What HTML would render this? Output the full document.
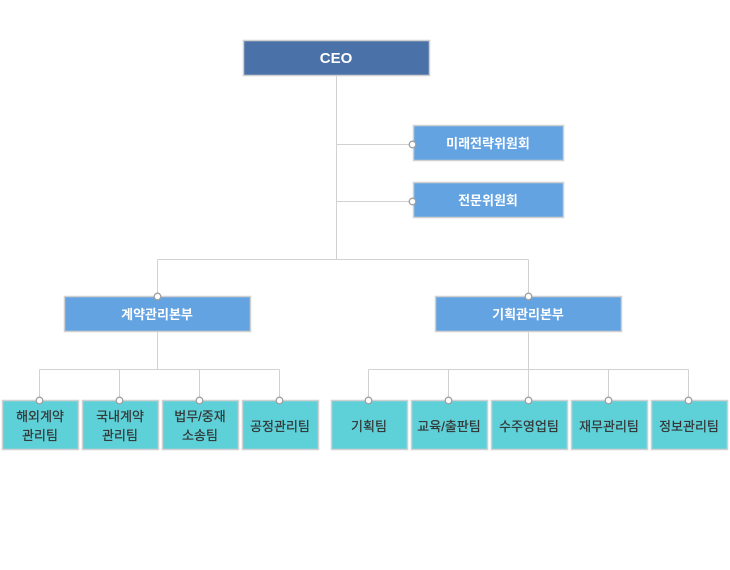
<!DOCTYPE html>
<html><head><meta charset="utf-8"><style>
html,body{margin:0;padding:0;background:#fff;width:730px;height:570px;overflow:hidden}
svg{display:block}
text{font-family:"Liberation Sans","Noto Sans CJK KR","NanumGothic",sans-serif}
</style></head><body>
<svg width="730" height="570" viewBox="0 0 730 570">
<g stroke="#d2d2d2" stroke-width="1" fill="none">
<path d="M336.5 76V259.5M336.5 144.5H413M336.5 201.5H413M157.5 259.5H528.5M157.5 259.5V296M528.5 259.5V296"/>
<path d="M157.5 332V369.5M39.5 369.5H279.5M39.5 369.5V400M119.5 369.5V400M199.5 369.5V400M279.5 369.5V400"/>
<path d="M528.5 332V369.5M368.5 369.5H688.5M368.5 369.5V400M448.5 369.5V400M528.5 369.5V400M608.5 369.5V400M688.5 369.5V400"/>
</g>
<g stroke="#d0d0d0" stroke-width="1.5">
<rect x="243.5" y="40.5" width="186" height="35" fill="#4a72a8"/>
<rect x="413.5" y="125.5" width="150" height="35" fill="#63a3e1"/>
<rect x="413.5" y="182.5" width="150" height="35" fill="#63a3e1"/>
<rect x="64.5" y="296.5" width="186" height="35" fill="#63a3e1"/>
<rect x="435.5" y="296.5" width="186" height="35" fill="#63a3e1"/>
<g fill="#5dd0d8">
<rect x="2.5" y="400.5" width="76" height="49"/>
<rect x="82.5" y="400.5" width="76" height="49"/>
<rect x="162.5" y="400.5" width="76" height="49"/>
<rect x="242.5" y="400.5" width="76" height="49"/>
<rect x="331.5" y="400.5" width="76" height="49"/>
<rect x="411.5" y="400.5" width="76" height="49"/>
<rect x="491.5" y="400.5" width="76" height="49"/>
<rect x="571.5" y="400.5" width="76" height="49"/>
<rect x="651.5" y="400.5" width="76" height="49"/>
</g></g>
<g fill="#fff" stroke="#a0a0a0" stroke-width="1.3">
<circle cx="412.5" cy="144.5" r="3.3"/><circle cx="412.5" cy="201.5" r="3.3"/>
<circle cx="157.5" cy="296.5" r="3.3"/><circle cx="528.5" cy="296.5" r="3.3"/>
<circle cx="39.5" cy="400.5" r="3.3"/><circle cx="119.5" cy="400.5" r="3.3"/><circle cx="199.5" cy="400.5" r="3.3"/><circle cx="279.5" cy="400.5" r="3.3"/>
<circle cx="368.5" cy="400.5" r="3.3"/><circle cx="448.5" cy="400.5" r="3.3"/><circle cx="528.5" cy="400.5" r="3.3"/><circle cx="608.5" cy="400.5" r="3.3"/><circle cx="688.5" cy="400.5" r="3.3"/>
</g>
<g fill="#fff" font-weight="bold" text-anchor="middle" font-size="14">
<text x="336" y="63" font-size="15">CEO</text>
<text x="488" y="148" font-size="13">미래전략위원회</text>
<text x="488" y="205" font-size="13">전문위원회</text>
<text x="157" y="319" font-size="13">계약관리본부</text>
<text x="528" y="319" font-size="13">기획관리본부</text>
</g>
<g fill="#333" text-anchor="middle" font-size="13" stroke="#333" stroke-width="0.2">
<text x="40" y="421">해외계약</text><text x="40" y="440">관리팀</text>
<text x="120" y="421">국내계약</text><text x="120" y="440">관리팀</text>
<text x="200" y="421">법무/중재</text><text x="200" y="440">소송팀</text>
<text x="280" y="431">공정관리팀</text>
<text x="369" y="431">기획팀</text>
<text x="449" y="431">교육/출판팀</text>
<text x="529" y="431">수주영업팀</text>
<text x="609" y="431">재무관리팀</text>
<text x="689" y="431">정보관리팀</text>
</g>
</svg>
</body></html>
